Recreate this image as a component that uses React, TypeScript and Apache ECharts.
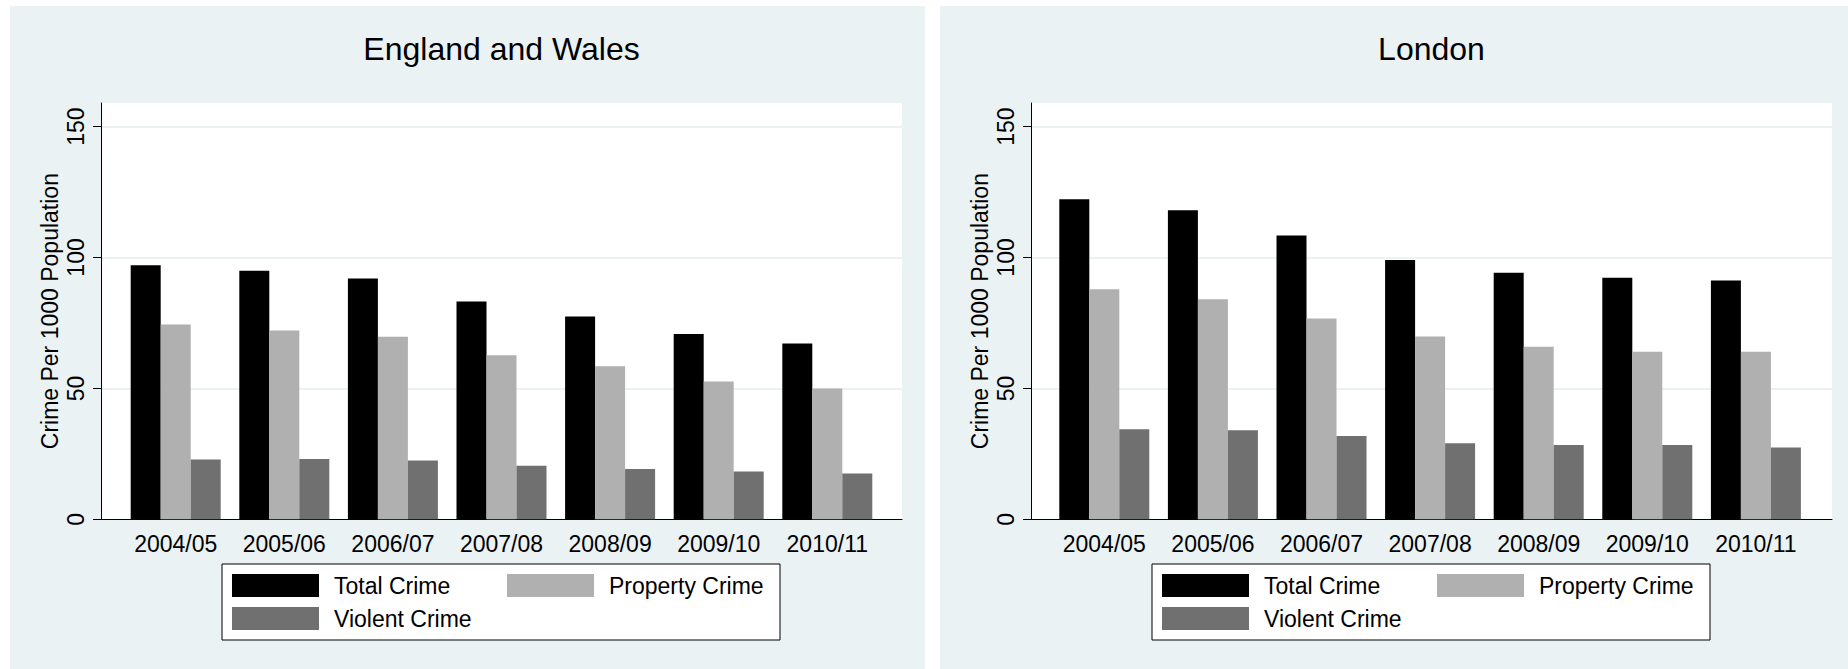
import React, { useEffect, useRef } from "react";
import * as echarts from "echarts";

const categories = ["2004/05", "2005/06", "2006/07", "2007/08", "2008/09", "2009/10", "2010/11"];
const seriesNames = ["Total Crime", "Property Crime", "Violent Crime"];
const ewTotal = [97.0, 94.9, 92.0, 83.2, 77.5, 70.8, 67.1];
const ewProperty = [74.4, 72.1, 69.7, 62.7, 58.5, 52.6, 50.0];
const ewViolent = [22.8, 23.0, 22.5, 20.5, 19.2, 18.3, 17.5];
const lonTotal = [122.2, 118.0, 108.4, 99.0, 94.2, 92.3, 91.2];
const lonProperty = [87.9, 84.0, 76.7, 69.8, 65.9, 64.0, 64.0];
const lonViolent = [34.4, 34.0, 31.8, 29.0, 28.4, 28.4, 27.4];
const yTicks = [0, 50, 100, 150];
const yMax = 159;
const panelTitles = ["England and Wales", "London"];

const FONT = "'Liberation Sans', Arial, Helvetica, sans-serif";
const COLORS = ["#000000", "#b0b0b0", "#707070"];
const PANEL_BG = "#eaf2f3";

export default function App() {
  const ref = useRef<HTMLDivElement>(null);

  useEffect(() => {
    if (!ref.current) return;
    const chart = echarts.init(ref.current, null, { renderer: "svg" });

    const panels = [
      { dx: 0, barLeft: 121.4, data: [ewTotal, ewProperty, ewViolent] },
      { dx: 930, barLeft: 1050, data: [lonTotal, lonProperty, lonViolent] },
    ];

    const grid: any[] = [];
    const xAxis: any[] = [];
    const yAxis: any[] = [];
    const series: any[] = [];
    const title: any[] = [];
    const legend: any[] = [];
    const graphic: any[] = [];

    panels.forEach((p, i) => {
      const plotLeft = 101 + p.dx;
      graphic.push({
        type: "rect",
        z: -10,
        shape: { x: 10 + p.dx, y: 6, width: 915, height: 663 },
        style: { fill: PANEL_BG },
        silent: true,
      });
      // background grid (white plot region + axis lines + y scale)
      grid.push({
        left: plotLeft,
        top: 103,
        width: 801,
        height: 416.3,
        show: true,
        backgroundColor: "#ffffff",
        borderWidth: 0,
      });
      // bar grid
      grid.push({
        left: p.barLeft,
        top: 103,
        width: 760.2,
        height: 416.3,
      });
      const gA = i * 2;
      const gB = i * 2 + 1;
      xAxis.push({
        gridIndex: gA,
        type: "value",
        min: 0,
        max: 1,
        axisLine: { show: true, onZero: false, lineStyle: { color: "#000", width: 1 } },
        axisTick: { show: false },
        axisLabel: { show: false },
        splitLine: { show: false },
      });
      xAxis.push({
        gridIndex: gB,
        type: "category",
        data: categories,
        boundaryGap: true,
        axisLine: { show: false },
        axisTick: { show: false },
        axisLabel: { show: true, margin: 13, fontSize: 23, color: "#000", fontFamily: FONT },
        splitLine: { show: false },
      });
      yAxis.push({
        gridIndex: gA,
        type: "value",
        min: 0,
        max: yMax,
        interval: 50,
        name: "Crime Per 1000 Population",
        nameLocation: "middle",
        nameGap: 40,
        nameTextStyle: { fontSize: 23, color: "#000", fontFamily: FONT },
        axisLine: { show: true, onZero: false, lineStyle: { color: "#000", width: 1 } },
        axisTick: { show: true, length: 8, customValues: yTicks, lineStyle: { color: "#000" } },
        axisLabel: {
          show: true,
          rotate: 90,
          margin: 14,
          customValues: yTicks,
          fontSize: 23,
          color: "#000",
          fontFamily: FONT,
        },
        splitLine: { show: true, lineStyle: { color: PANEL_BG, width: 2 } },
      });
      yAxis.push({
        gridIndex: gB,
        type: "value",
        min: 0,
        max: yMax,
        show: false,
        splitLine: { show: false },
      });
      seriesNames.forEach((name, k) => {
        series.push({
          type: "bar",
          name,
          xAxisIndex: gB,
          yAxisIndex: gB,
          data: p.data[k],
          barWidth: 30,
          barGap: "0%",
          itemStyle: { color: COLORS[k] },
        });
      });
      title.push({
        text: panelTitles[i],
        left: 501.5 + p.dx,
        top: 33,
        textAlign: "center",
        padding: 0,
        textStyle: { fontSize: 32, fontWeight: "normal", color: "#000", fontFamily: FONT },
      });
      legend.push({
        left: 222 + p.dx,
        top: 564,
        orient: "horizontal",
        width: 560,
        data: seriesNames,
        icon: "rect",
        itemWidth: 87,
        itemHeight: 23,
        itemGap: 10,
        padding: [10, 8, 10, 10],
        backgroundColor: "#ffffff",
        borderColor: "#000000",
        borderWidth: 1,
        selectedMode: false,
        textStyle: {
          fontSize: 23,
          color: "#000",
          fontFamily: FONT,
          width: 163,
          lineHeight: 23,
          padding: [0, 0, 0, 10],
        },
      });
    });

    chart.setOption({
      animation: false,
      backgroundColor: "#ffffff",
      graphic,
      title,
      legend,
      grid,
      xAxis,
      yAxis,
      series,
    });

    return () => chart.dispose();
  }, []);

  return (
    <div
      ref={ref}
      style={{ position: "fixed", left: 0, top: 0, width: 1848, height: 669, background: "#fff" }}
    />
  );
}
